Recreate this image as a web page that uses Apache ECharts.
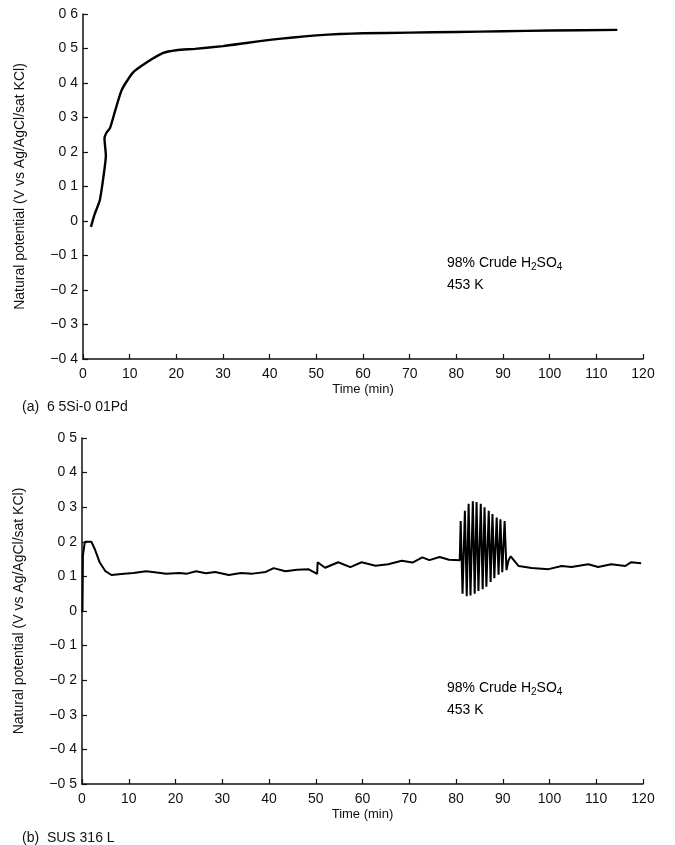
<!DOCTYPE html>
<html>
<head>
<meta charset="utf-8">
<script src="https://cdn.jsdelivr.net/npm/echarts@6/dist/echarts.min.js"></script>
<style>
  html, body { margin: 0; padding: 0; background: #fff; }
  #chart { width: 675px; height: 845px; }
</style>
</head>
<body>
<div id="chart"></div>
<script>
// (a) 6.5Si-0.01Pd
const timeA = [1.7, 2.5, 3.6, 4.5, 4.9, 4.6, 5.0, 5.8, 6.9, 8.3, 10.7, 13.7, 17.2, 20, 24, 30, 35, 40, 45, 50, 55, 60, 70, 80, 90, 100, 114.5];
const potA = [-0.017, 0.02, 0.06, 0.14, 0.19, 0.24, 0.255, 0.27, 0.32, 0.38, 0.43, 0.46, 0.487, 0.495, 0.499, 0.507, 0.516, 0.525, 0.532, 0.538, 0.542, 0.544, 0.546, 0.548, 0.55, 0.552, 0.554];

// (b) SUS 316 L
const timeB = [0.1, 0.2, 0.6, 2.0, 2.7, 3.8, 5.0, 6.3, 9, 11, 13.7, 16, 18, 20.8, 22.5, 24.4, 26.5, 28.5, 31.4, 34, 36.5, 39.3, 41, 43.5, 46, 48.4, 50.3, 50.4, 52, 54.8, 57.4, 59.8, 62.8, 65.5, 68.4, 70.7, 72.8, 74.3, 76.5, 78.5,
  80.8, 81.0, 81.4, 81.9, 82.3, 82.7, 83.1, 83.6, 84.0, 84.4, 84.8, 85.3, 85.7, 86.1, 86.5, 87.0, 87.4, 87.8, 88.2, 88.7, 89.1, 89.5, 89.9, 90.4, 90.8, 91.2,
  91.7, 93.4, 96.2, 99.8, 102.6, 104.7, 108.3, 110.4, 113.2, 116.2, 117.5, 119.6];
const potB = [-0.003, 0.16, 0.2, 0.2, 0.18, 0.14, 0.115, 0.104, 0.108, 0.11, 0.115, 0.111, 0.108, 0.11, 0.108, 0.115, 0.109, 0.113, 0.104, 0.11, 0.108, 0.113, 0.124, 0.115, 0.119, 0.121, 0.107, 0.141, 0.125, 0.141, 0.127, 0.141, 0.131, 0.135, 0.145, 0.14, 0.155, 0.147, 0.156, 0.148,
  0.147, 0.26, 0.05, 0.29, 0.043, 0.31, 0.045, 0.317, 0.05, 0.315, 0.058, 0.31, 0.063, 0.30, 0.07, 0.29, 0.084, 0.28, 0.095, 0.27, 0.105, 0.265, 0.112, 0.26, 0.118, 0.145,
  0.158, 0.13, 0.124, 0.121, 0.13, 0.127, 0.135, 0.127, 0.135, 0.13, 0.141, 0.138];

const yNameText = 'Natural potential (V vs Ag/AgCl/sat KCl)';
const xNameText = 'Time (min)';
const captionA = '(a)  6 5Si-0 01Pd';
const captionB = '(b)  SUS 316 L';

const chart = echarts.init(document.getElementById('chart'));
const font = 'Liberation Sans, Arial, sans-serif';
const ink = '#111';

// tick labels as printed: decimal point dropped, true minus sign
const yFmt = v => Math.abs(v) < 1e-9 ? '0' : v.toFixed(1).replace('.', ' ').replace('-', '\u2212');

function xAxis(idx) {
  return {
    type: 'value', gridIndex: idx, min: 0, max: 120, interval: 10,
    name: xNameText, nameLocation: 'middle', nameGap: 24,
    nameTextStyle: { color: ink, fontSize: 13, fontFamily: font },
    axisLine: { onZero: false, lineStyle: { color: ink, width: 1.5 } },
    axisTick: { inside: true, length: 5, lineStyle: { color: ink, width: 1.2 } },
    axisLabel: { color: ink, fontSize: 14, fontFamily: font, margin: 8 },
    splitLine: { show: false }
  };
}

function yAxis(idx, min, max) {
  return {
    type: 'value', gridIndex: idx, min: min, max: max, interval: 0.1,
    name: yNameText, nameLocation: 'middle', nameRotate: 90, nameGap: 56,
    nameTextStyle: { color: ink, fontSize: 14, fontFamily: font },
    axisLine: { show: true, onZero: false, lineStyle: { color: ink, width: 1.5 } },
    axisTick: { show: true, inside: true, length: 5, lineStyle: { color: ink, width: 1.2 } },
    axisLabel: { color: ink, fontSize: 14, fontFamily: font, margin: 5, formatter: yFmt },
    splitLine: { show: false }
  };
}

const richNote = {
  a: { fontSize: 14, fontFamily: font, color: ink, lineHeight: 22 },
  s: { fontSize: 10, fontFamily: font, color: ink, lineHeight: 22, padding: [8, 0, 0, 0] }
};
function note(left, top) {
  return {
    type: 'text', left: left, top: top,
    style: {
      text: '{a|98% Crude H}{s|2}{a|SO}{s|4}\n{a|453 K}',
      rich: richNote
    }
  };
}

chart.setOption({
  animation: false,
  backgroundColor: '#fff',
  grid: [
    { left: 83, top: 14, width: 560, height: 345 },
    { left: 82, top: 438, width: 561, height: 346 }
  ],
  xAxis: [xAxis(0), xAxis(1)],
  yAxis: [yAxis(0, -0.4, 0.6), yAxis(1, -0.5, 0.5)],
  series: [
    {
      type: 'line', xAxisIndex: 0, yAxisIndex: 0, symbol: 'none', smooth: 0.2,
      lineStyle: { color: '#000', width: 2.4 },
      data: timeA.map((t, i) => [t, potA[i]])
    },
    {
      type: 'line', xAxisIndex: 1, yAxisIndex: 1, symbol: 'none',
      lineStyle: { color: '#000', width: 2 },
      data: timeB.map((t, i) => [t, potB[i]])
    }
  ],
  graphic: [
    note(447, 254),
    note(447, 679),
    { type: 'text', left: 22, top: 400, style: { text: captionA, fontSize: 14, fontFamily: font, fill: ink } },
    { type: 'text', left: 22, top: 831, style: { text: captionB, fontSize: 14, fontFamily: font, fill: ink } }
  ]
});
</script>
</body>
</html>
